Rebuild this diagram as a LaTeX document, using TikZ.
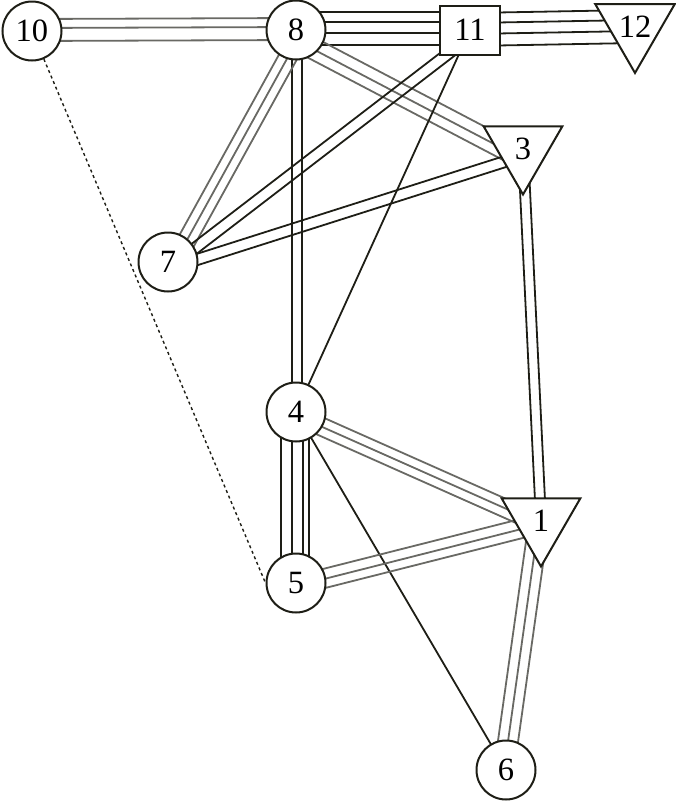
\documentclass[tikz,border=0pt]{standalone}
\usepackage{fontspec}
\setmainfont{Liberation Serif}
\usetikzlibrary{shapes.geometric,calc,backgrounds}

\definecolor{linkdark}{RGB}{30,30,22}
\definecolor{linkgray}{RGB}{105,105,100}

\tikzset{
  site/.style={circle, draw=linkdark, line width=2pt, fill=white, minimum size=59pt, inner sep=0pt},
  hub/.style={rectangle, draw=linkdark, line width=2pt, fill=white, minimum width=60pt, minimum height=49pt, inner sep=0pt},
  sink/.style={regular polygon, regular polygon sides=3, shape border rotate=180, draw=linkdark, line width=2pt, fill=white, minimum size=91pt, inner sep=0pt},
  dark/.style={draw=linkdark, line width=1.8pt},
  light/.style={draw=linkgray, line width=1.8pt}
}

% parallel strands between two nodes, offsets in pt
\newcommand{\strands}[4]{%
  \foreach \off in {#3}
    \draw[#4] ($(#1)!\off pt!90:(#2)$) -- ($(#2)!\off pt!-90:(#1)$);
}

\begin{document}
\begin{tikzpicture}[x=1pt, y=-1pt, font=\fontsize{32.5}{36}\selectfont]
  \useasboundingbox (0,0) rectangle (676,801);

  \node[site] (n10) at (32,31) {10};
  \node[site] (n8) at (296,30) {8};
  \node[hub] (n11) at (470,30) {11};
  \node[sink] (n12) at (635,27) {12};
  \node[sink] (n3) at (523,149) {3};
  \node[site] (n7) at (168,262) {7};
  \node[site] (n4) at (296,412) {4};
  \node[site] (n5) at (296,583) {5};
  \node[sink] (n1) at (541,521) {1};
  \node[site] (n6) at (506,770) {6};

  \begin{scope}[on background layer]
    % top row
    \strands{n10}{n8}{12,3,-10}{light}
    \strands{n8}{n11}{18,8,-3,-15}{dark}
    \strands{n11}{n12}{17,7,-4,-16}{dark}
    % from 8 and 11 downwards
    \strands{n8}{n4}{-4,6}{dark}
    \strands{n8}{n7}{-3,6,15}{light}
    \strands{n8}{n3}{2,-9,-19}{light}
    \strands{n11}{n7}{0,11}{dark}
    \strands{n11}{n4}{0}{dark}
    \strands{n3}{n7}{1,12}{dark}
    \strands{n3}{n1}{-5,5}{dark}
    % lower part
    \strands{n4}{n5}{-15,-4,7,13}{dark}
    \strands{n4}{n1}{6,-3,-12}{light}
    \strands{n4}{n6}{0}{dark}
    \strands{n5}{n1}{7,-3,-12}{light}
    \strands{n1}{n6}{-12,-2,8}{light}
    \draw[dark, line width=1.4pt, dash pattern=on 3pt off 3pt] (n10) -- (n5.west);
  \end{scope}
\end{tikzpicture}
\end{document}
